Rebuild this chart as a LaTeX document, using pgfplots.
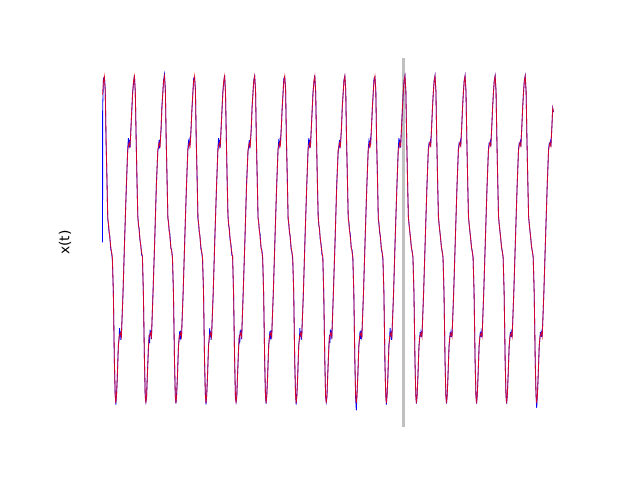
\documentclass[border=0pt]{standalone}
\usepackage{fontspec}
\setmainfont{DejaVu Sans}
\usepackage{pgfplots}
\pgfplotsset{compat=1.18}
\definecolor{mpblue}{RGB}{0,0,255}
\definecolor{mpred}{RGB}{255,0,0}
\definecolor{splitgray}{RGB}{192,192,192}
\begin{document}
\begin{tikzpicture}
\path[use as bounding box] (0,0) rectangle (6.4in,4.8in);
\begin{axis}[
  at={(0.8in,0.528in)}, anchor=south west,
  scale only axis, width=4.96in, height=3.696in,
  xmin=-0.75, xmax=15.75, ymin=-1.1, ymax=1.1,
  axis line style={draw=none}, ticks=none,
  ylabel={x(t)},
  ylabel style={at={(axis description cs:0,0.5)}, anchor=center, yshift=0.15in, font=\fontsize{10}{12}\selectfont},
]
\addplot[splitgray, line width=2.2pt] coordinates {(10,-1.1)(10,1.1)};
% measured (noisy) series
\addplot[mpblue, line width=0.6pt] coordinates {
(0.000,0.000)(0.004,0.800)(0.030,0.975)(0.060,0.985)(0.090,0.910)(0.116,0.610)(0.145,0.395)(0.173,0.140)(0.195,0.110)(0.216,0.060)(0.240,0.040)(0.273,-0.040)(0.300,-0.060)(0.326,-0.100)(0.359,-0.290)(0.393,-0.710)(0.420,-0.900)(0.442,-0.965)(0.465,-0.905)(0.490,-0.810)(0.526,-0.610)(0.550,-0.575)(0.565,-0.510)(0.580,-0.560)(0.592,-0.530)(0.610,-0.580)(0.626,-0.555)(0.680,-0.310)(0.735,0.025)(0.790,0.320)(0.838,0.560)(0.860,0.620)(0.882,0.580)(0.900,0.610)(0.915,0.565)(0.948,0.695)(0.975,0.790)
(1.000,0.890)(1.030,0.950)(1.060,0.995)(1.090,0.890)(1.116,0.640)(1.145,0.370)(1.173,0.160)(1.195,0.100)(1.216,0.085)(1.240,0.020)(1.273,-0.015)(1.300,-0.075)(1.326,-0.080)(1.359,-0.315)(1.393,-0.690)(1.420,-0.920)(1.442,-0.950)(1.465,-0.920)(1.490,-0.790)(1.526,-0.635)(1.550,-0.550)(1.565,-0.600)(1.580,-0.520)(1.592,-0.550)(1.610,-0.525)(1.626,-0.575)(1.680,-0.290)(1.735,0.005)(1.790,0.345)(1.838,0.540)(1.860,0.570)(1.882,0.610)(1.900,0.560)(1.915,0.590)(1.948,0.675)(1.975,0.810)
(2.000,0.875)(2.030,0.965)(2.060,1.000)(2.090,0.905)(2.116,0.620)(2.145,0.385)(2.173,0.145)(2.195,0.120)(2.216,0.070)(2.240,0.050)(2.273,-0.035)(2.300,-0.045)(2.326,-0.095)(2.359,-0.305)(2.393,-0.705)(2.420,-0.915)(2.442,-0.960)(2.465,-0.900)(2.490,-0.805)(2.526,-0.615)(2.550,-0.570)(2.565,-0.530)(2.580,-0.575)(2.592,-0.525)(2.610,-0.570)(2.626,-0.560)(2.680,-0.305)(2.735,0.020)(2.790,0.325)(2.838,0.555)(2.860,0.600)(2.882,0.575)(2.900,0.605)(2.915,0.580)(2.948,0.690)(2.975,0.795)
(3.000,0.870)(3.030,0.975)(3.060,0.985)(3.090,0.910)(3.116,0.610)(3.145,0.395)(3.173,0.140)(3.195,0.110)(3.216,0.060)(3.240,0.040)(3.273,-0.040)(3.300,-0.060)(3.326,-0.100)(3.359,-0.290)(3.393,-0.710)(3.420,-0.900)(3.442,-0.965)(3.465,-0.905)(3.490,-0.810)(3.526,-0.610)(3.550,-0.575)(3.565,-0.510)(3.580,-0.560)(3.592,-0.530)(3.610,-0.580)(3.626,-0.555)(3.680,-0.310)(3.735,0.025)(3.790,0.320)(3.838,0.560)(3.860,0.620)(3.882,0.580)(3.900,0.610)(3.915,0.565)(3.948,0.695)(3.975,0.790)
(4.000,0.890)(4.030,0.950)(4.060,0.995)(4.090,0.890)(4.116,0.640)(4.145,0.370)(4.173,0.160)(4.195,0.100)(4.216,0.085)(4.240,0.020)(4.273,-0.015)(4.300,-0.075)(4.326,-0.080)(4.359,-0.315)(4.393,-0.690)(4.420,-0.920)(4.442,-0.950)(4.465,-0.920)(4.490,-0.790)(4.526,-0.635)(4.550,-0.550)(4.565,-0.600)(4.580,-0.520)(4.592,-0.550)(4.610,-0.525)(4.626,-0.575)(4.680,-0.290)(4.735,0.005)(4.790,0.345)(4.838,0.540)(4.860,0.570)(4.882,0.610)(4.900,0.560)(4.915,0.590)(4.948,0.675)(4.975,0.810)
(5.000,0.875)(5.030,0.965)(5.060,0.990)(5.090,0.905)(5.116,0.620)(5.145,0.385)(5.173,0.145)(5.195,0.120)(5.216,0.070)(5.240,0.050)(5.273,-0.035)(5.300,-0.045)(5.326,-0.095)(5.359,-0.305)(5.393,-0.705)(5.420,-0.915)(5.442,-0.960)(5.465,-0.900)(5.490,-0.805)(5.526,-0.615)(5.550,-0.570)(5.565,-0.530)(5.580,-0.575)(5.592,-0.525)(5.610,-0.570)(5.626,-0.560)(5.680,-0.305)(5.735,0.020)(5.790,0.325)(5.838,0.555)(5.860,0.600)(5.882,0.575)(5.900,0.605)(5.915,0.580)(5.948,0.690)(5.975,0.795)
(6.000,0.870)(6.030,0.975)(6.060,0.985)(6.090,0.910)(6.116,0.610)(6.145,0.395)(6.173,0.140)(6.195,0.110)(6.216,0.060)(6.240,0.040)(6.273,-0.040)(6.300,-0.060)(6.326,-0.100)(6.359,-0.290)(6.393,-0.710)(6.420,-0.900)(6.442,-0.965)(6.465,-0.905)(6.490,-0.810)(6.526,-0.610)(6.550,-0.575)(6.565,-0.510)(6.580,-0.560)(6.592,-0.530)(6.610,-0.580)(6.626,-0.555)(6.680,-0.310)(6.735,0.025)(6.790,0.320)(6.838,0.560)(6.860,0.620)(6.882,0.580)(6.900,0.610)(6.915,0.565)(6.948,0.695)(6.975,0.790)
(7.000,0.890)(7.030,0.950)(7.060,0.995)(7.090,0.890)(7.116,0.640)(7.145,0.370)(7.173,0.160)(7.195,0.100)(7.216,0.085)(7.240,0.020)(7.273,-0.015)(7.300,-0.075)(7.326,-0.080)(7.359,-0.315)(7.393,-0.690)(7.420,-0.920)(7.442,-0.950)(7.465,-0.920)(7.490,-0.790)(7.526,-0.635)(7.550,-0.550)(7.565,-0.600)(7.580,-0.520)(7.592,-0.550)(7.610,-0.525)(7.626,-0.575)(7.680,-0.290)(7.735,0.005)(7.790,0.345)(7.838,0.540)(7.860,0.570)(7.882,0.610)(7.900,0.560)(7.915,0.590)(7.948,0.675)(7.975,0.810)
(8.000,0.875)(8.030,0.965)(8.060,0.990)(8.090,0.905)(8.116,0.620)(8.145,0.385)(8.173,0.145)(8.195,0.120)(8.216,0.070)(8.240,0.050)(8.273,-0.035)(8.300,-0.045)(8.326,-0.095)(8.359,-0.305)(8.393,-0.705)(8.420,-0.930)(8.442,-1.000)(8.465,-0.900)(8.490,-0.805)(8.526,-0.615)(8.550,-0.570)(8.565,-0.530)(8.580,-0.575)(8.592,-0.525)(8.610,-0.570)(8.626,-0.560)(8.680,-0.305)(8.735,0.020)(8.790,0.325)(8.838,0.555)(8.860,0.600)(8.882,0.575)(8.900,0.605)(8.915,0.580)(8.948,0.690)(8.975,0.795)
(9.000,0.870)(9.030,0.975)(9.060,0.985)(9.090,0.910)(9.116,0.610)(9.145,0.395)(9.173,0.140)(9.195,0.110)(9.216,0.060)(9.240,0.040)(9.273,-0.040)(9.300,-0.060)(9.326,-0.100)(9.359,-0.290)(9.393,-0.710)(9.420,-0.900)(9.442,-0.965)(9.465,-0.905)(9.490,-0.810)(9.526,-0.610)(9.550,-0.575)(9.565,-0.510)(9.580,-0.560)(9.592,-0.530)(9.610,-0.580)(9.626,-0.555)(9.680,-0.310)(9.735,0.025)(9.790,0.320)(9.838,0.560)(9.860,0.620)(9.882,0.580)(9.900,0.610)(9.915,0.565)(9.948,0.695)(9.975,0.790)
(10.000,0.882)(10.030,0.962)(10.060,0.992)(10.090,0.898)(10.116,0.632)(10.145,0.376)(10.173,0.155)(10.195,0.108)(10.216,0.072)(10.240,0.035)(10.273,-0.030)(10.300,-0.055)(10.326,-0.090)(10.359,-0.298)(10.393,-0.702)(10.420,-0.908)(10.442,-0.960)(10.465,-0.908)(10.490,-0.802)(10.526,-0.618)(10.550,-0.570)(10.565,-0.535)(10.580,-0.560)(10.592,-0.535)(10.610,-0.560)(10.626,-0.558)(10.680,-0.303)(10.735,0.016)(10.790,0.328)(10.838,0.555)(10.860,0.590)(10.882,0.585)(10.900,0.600)(10.915,0.570)(10.948,0.690)(10.975,0.798)
(11.000,0.882)(11.030,0.962)(11.060,0.992)(11.090,0.898)(11.116,0.632)(11.145,0.376)(11.173,0.155)(11.195,0.108)(11.216,0.072)(11.240,0.035)(11.273,-0.030)(11.300,-0.055)(11.326,-0.090)(11.359,-0.298)(11.393,-0.702)(11.420,-0.908)(11.442,-0.960)(11.465,-0.908)(11.490,-0.802)(11.526,-0.618)(11.550,-0.570)(11.565,-0.535)(11.580,-0.560)(11.592,-0.535)(11.610,-0.560)(11.626,-0.558)(11.680,-0.303)(11.735,0.016)(11.790,0.328)(11.838,0.555)(11.860,0.590)(11.882,0.585)(11.900,0.600)(11.915,0.570)(11.948,0.690)(11.975,0.798)
(12.000,0.882)(12.030,0.962)(12.060,0.992)(12.090,0.898)(12.116,0.632)(12.145,0.376)(12.173,0.155)(12.195,0.108)(12.216,0.072)(12.240,0.035)(12.273,-0.030)(12.300,-0.055)(12.326,-0.090)(12.359,-0.298)(12.393,-0.702)(12.420,-0.908)(12.442,-0.960)(12.465,-0.908)(12.490,-0.802)(12.526,-0.618)(12.550,-0.570)(12.565,-0.535)(12.580,-0.560)(12.592,-0.535)(12.610,-0.560)(12.626,-0.558)(12.680,-0.303)(12.735,0.016)(12.790,0.328)(12.838,0.555)(12.860,0.590)(12.882,0.585)(12.900,0.600)(12.915,0.570)(12.948,0.690)(12.975,0.798)
(13.000,0.882)(13.030,0.962)(13.060,0.992)(13.090,0.898)(13.116,0.632)(13.145,0.376)(13.173,0.155)(13.195,0.108)(13.216,0.072)(13.240,0.035)(13.273,-0.030)(13.300,-0.055)(13.326,-0.090)(13.359,-0.298)(13.393,-0.702)(13.420,-0.908)(13.442,-0.960)(13.465,-0.908)(13.490,-0.802)(13.526,-0.618)(13.550,-0.570)(13.565,-0.535)(13.580,-0.560)(13.592,-0.535)(13.610,-0.560)(13.626,-0.558)(13.680,-0.303)(13.735,0.016)(13.790,0.328)(13.838,0.555)(13.860,0.590)(13.882,0.585)(13.900,0.600)(13.915,0.570)(13.948,0.690)(13.975,0.798)
(14.000,0.882)(14.030,0.962)(14.060,0.992)(14.090,0.898)(14.116,0.632)(14.145,0.376)(14.173,0.155)(14.195,0.108)(14.216,0.072)(14.240,0.035)(14.273,-0.030)(14.300,-0.055)(14.326,-0.090)(14.359,-0.298)(14.393,-0.702)(14.420,-0.908)(14.442,-0.985)(14.465,-0.908)(14.490,-0.802)(14.526,-0.618)(14.550,-0.570)(14.565,-0.535)(14.580,-0.560)(14.592,-0.535)(14.610,-0.560)(14.626,-0.558)(14.680,-0.303)(14.735,0.016)(14.790,0.328)(14.838,0.555)(14.860,0.590)(14.882,0.585)(14.900,0.600)(14.915,0.570)(14.948,0.690)(14.975,0.798)
(15.000,0.775)
};
% model (fit) series
\addplot[mpred, line width=0.6pt, opacity=0.8] coordinates {
(0.000,0.880)(0.030,0.960)(0.060,0.990)(0.090,0.900)(0.116,0.628)(0.145,0.380)(0.173,0.151)(0.216,0.074)(0.273,-0.027)(0.326,-0.087)(0.359,-0.301)(0.393,-0.699)(0.420,-0.910)(0.442,-0.956)(0.465,-0.910)(0.490,-0.800)(0.526,-0.622)(0.550,-0.563)(0.592,-0.539)(0.626,-0.563)(0.680,-0.301)(0.735,0.014)(0.790,0.330)(0.838,0.550)(0.882,0.592)(0.915,0.574)(0.948,0.687)(0.975,0.800)
(1.000,0.880)(1.030,0.960)(1.060,0.990)(1.090,0.900)(1.116,0.628)(1.145,0.380)(1.173,0.151)(1.216,0.074)(1.273,-0.027)(1.326,-0.087)(1.359,-0.301)(1.393,-0.699)(1.420,-0.910)(1.442,-0.956)(1.465,-0.910)(1.490,-0.800)(1.526,-0.622)(1.550,-0.563)(1.592,-0.539)(1.626,-0.563)(1.680,-0.301)(1.735,0.014)(1.790,0.330)(1.838,0.550)(1.882,0.592)(1.915,0.574)(1.948,0.687)(1.975,0.800)
(2.000,0.880)(2.030,0.960)(2.060,0.990)(2.090,0.900)(2.116,0.628)(2.145,0.380)(2.173,0.151)(2.216,0.074)(2.273,-0.027)(2.326,-0.087)(2.359,-0.301)(2.393,-0.699)(2.420,-0.910)(2.442,-0.956)(2.465,-0.910)(2.490,-0.800)(2.526,-0.622)(2.550,-0.563)(2.592,-0.539)(2.626,-0.563)(2.680,-0.301)(2.735,0.014)(2.790,0.330)(2.838,0.550)(2.882,0.592)(2.915,0.574)(2.948,0.687)(2.975,0.800)
(3.000,0.880)(3.030,0.960)(3.060,0.990)(3.090,0.900)(3.116,0.628)(3.145,0.380)(3.173,0.151)(3.216,0.074)(3.273,-0.027)(3.326,-0.087)(3.359,-0.301)(3.393,-0.699)(3.420,-0.910)(3.442,-0.956)(3.465,-0.910)(3.490,-0.800)(3.526,-0.622)(3.550,-0.563)(3.592,-0.539)(3.626,-0.563)(3.680,-0.301)(3.735,0.014)(3.790,0.330)(3.838,0.550)(3.882,0.592)(3.915,0.574)(3.948,0.687)(3.975,0.800)
(4.000,0.880)(4.030,0.960)(4.060,0.990)(4.090,0.900)(4.116,0.628)(4.145,0.380)(4.173,0.151)(4.216,0.074)(4.273,-0.027)(4.326,-0.087)(4.359,-0.301)(4.393,-0.699)(4.420,-0.910)(4.442,-0.956)(4.465,-0.910)(4.490,-0.800)(4.526,-0.622)(4.550,-0.563)(4.592,-0.539)(4.626,-0.563)(4.680,-0.301)(4.735,0.014)(4.790,0.330)(4.838,0.550)(4.882,0.592)(4.915,0.574)(4.948,0.687)(4.975,0.800)
(5.000,0.880)(5.030,0.960)(5.060,0.990)(5.090,0.900)(5.116,0.628)(5.145,0.380)(5.173,0.151)(5.216,0.074)(5.273,-0.027)(5.326,-0.087)(5.359,-0.301)(5.393,-0.699)(5.420,-0.910)(5.442,-0.956)(5.465,-0.910)(5.490,-0.800)(5.526,-0.622)(5.550,-0.563)(5.592,-0.539)(5.626,-0.563)(5.680,-0.301)(5.735,0.014)(5.790,0.330)(5.838,0.550)(5.882,0.592)(5.915,0.574)(5.948,0.687)(5.975,0.800)
(6.000,0.880)(6.030,0.960)(6.060,0.990)(6.090,0.900)(6.116,0.628)(6.145,0.380)(6.173,0.151)(6.216,0.074)(6.273,-0.027)(6.326,-0.087)(6.359,-0.301)(6.393,-0.699)(6.420,-0.910)(6.442,-0.956)(6.465,-0.910)(6.490,-0.800)(6.526,-0.622)(6.550,-0.563)(6.592,-0.539)(6.626,-0.563)(6.680,-0.301)(6.735,0.014)(6.790,0.330)(6.838,0.550)(6.882,0.592)(6.915,0.574)(6.948,0.687)(6.975,0.800)
(7.000,0.880)(7.030,0.960)(7.060,0.990)(7.090,0.900)(7.116,0.628)(7.145,0.380)(7.173,0.151)(7.216,0.074)(7.273,-0.027)(7.326,-0.087)(7.359,-0.301)(7.393,-0.699)(7.420,-0.910)(7.442,-0.956)(7.465,-0.910)(7.490,-0.800)(7.526,-0.622)(7.550,-0.563)(7.592,-0.539)(7.626,-0.563)(7.680,-0.301)(7.735,0.014)(7.790,0.330)(7.838,0.550)(7.882,0.592)(7.915,0.574)(7.948,0.687)(7.975,0.800)
(8.000,0.880)(8.030,0.960)(8.060,0.990)(8.090,0.900)(8.116,0.628)(8.145,0.380)(8.173,0.151)(8.216,0.074)(8.273,-0.027)(8.326,-0.087)(8.359,-0.301)(8.393,-0.699)(8.420,-0.910)(8.442,-0.956)(8.465,-0.910)(8.490,-0.800)(8.526,-0.622)(8.550,-0.563)(8.592,-0.539)(8.626,-0.563)(8.680,-0.301)(8.735,0.014)(8.790,0.330)(8.838,0.550)(8.882,0.592)(8.915,0.574)(8.948,0.687)(8.975,0.800)
(9.000,0.880)(9.030,0.960)(9.060,0.990)(9.090,0.900)(9.116,0.628)(9.145,0.380)(9.173,0.151)(9.216,0.074)(9.273,-0.027)(9.326,-0.087)(9.359,-0.301)(9.393,-0.699)(9.420,-0.910)(9.442,-0.956)(9.465,-0.910)(9.490,-0.800)(9.526,-0.622)(9.550,-0.563)(9.592,-0.539)(9.626,-0.563)(9.680,-0.301)(9.735,0.014)(9.790,0.330)(9.838,0.550)(9.882,0.592)(9.915,0.574)(9.948,0.687)(9.975,0.800)
(10.000,0.880)(10.030,0.960)(10.060,0.990)(10.090,0.900)(10.116,0.628)(10.145,0.380)(10.173,0.151)(10.216,0.074)(10.273,-0.027)(10.326,-0.087)(10.359,-0.301)(10.393,-0.699)(10.420,-0.910)(10.442,-0.956)(10.465,-0.910)(10.490,-0.800)(10.526,-0.622)(10.550,-0.563)(10.592,-0.539)(10.626,-0.563)(10.680,-0.301)(10.735,0.014)(10.790,0.330)(10.838,0.550)(10.882,0.592)(10.915,0.574)(10.948,0.687)(10.975,0.800)
(11.000,0.880)(11.030,0.960)(11.060,0.990)(11.090,0.900)(11.116,0.628)(11.145,0.380)(11.173,0.151)(11.216,0.074)(11.273,-0.027)(11.326,-0.087)(11.359,-0.301)(11.393,-0.699)(11.420,-0.910)(11.442,-0.956)(11.465,-0.910)(11.490,-0.800)(11.526,-0.622)(11.550,-0.563)(11.592,-0.539)(11.626,-0.563)(11.680,-0.301)(11.735,0.014)(11.790,0.330)(11.838,0.550)(11.882,0.592)(11.915,0.574)(11.948,0.687)(11.975,0.800)
(12.000,0.880)(12.030,0.960)(12.060,0.990)(12.090,0.900)(12.116,0.628)(12.145,0.380)(12.173,0.151)(12.216,0.074)(12.273,-0.027)(12.326,-0.087)(12.359,-0.301)(12.393,-0.699)(12.420,-0.910)(12.442,-0.956)(12.465,-0.910)(12.490,-0.800)(12.526,-0.622)(12.550,-0.563)(12.592,-0.539)(12.626,-0.563)(12.680,-0.301)(12.735,0.014)(12.790,0.330)(12.838,0.550)(12.882,0.592)(12.915,0.574)(12.948,0.687)(12.975,0.800)
(13.000,0.880)(13.030,0.960)(13.060,0.990)(13.090,0.900)(13.116,0.628)(13.145,0.380)(13.173,0.151)(13.216,0.074)(13.273,-0.027)(13.326,-0.087)(13.359,-0.301)(13.393,-0.699)(13.420,-0.910)(13.442,-0.956)(13.465,-0.910)(13.490,-0.800)(13.526,-0.622)(13.550,-0.563)(13.592,-0.539)(13.626,-0.563)(13.680,-0.301)(13.735,0.014)(13.790,0.330)(13.838,0.550)(13.882,0.592)(13.915,0.574)(13.948,0.687)(13.975,0.800)
(14.000,0.880)(14.030,0.960)(14.060,0.990)(14.090,0.900)(14.116,0.628)(14.145,0.380)(14.173,0.151)(14.216,0.074)(14.273,-0.027)(14.326,-0.087)(14.359,-0.301)(14.393,-0.699)(14.420,-0.910)(14.442,-0.956)(14.465,-0.910)(14.490,-0.800)(14.526,-0.622)(14.550,-0.563)(14.592,-0.539)(14.626,-0.563)(14.680,-0.301)(14.735,0.014)(14.790,0.330)(14.838,0.550)(14.882,0.592)(14.915,0.574)(14.948,0.687)(14.975,0.800)
(15.000,0.780)
};
\end{axis}
\end{tikzpicture}
\end{document}
